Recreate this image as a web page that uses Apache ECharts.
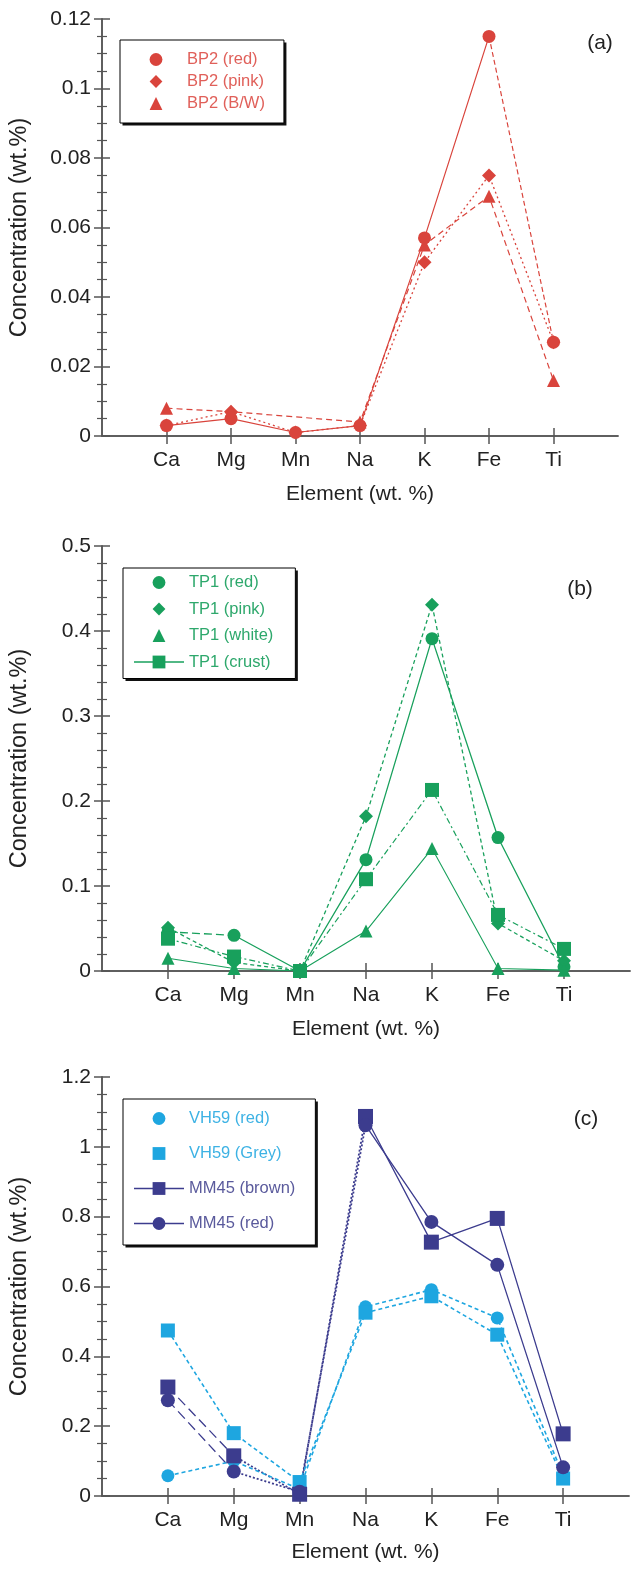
<!DOCTYPE html>
<html><head><meta charset="utf-8">
<script src="https://cdn.jsdelivr.net/npm/echarts@6/dist/echarts.min.js"></script>
<style>html,body{margin:0;padding:0;background:#fff}#c{width:634px;height:1570px}</style>
</head><body><div id="c"></div>
<script>
// ---------- data ----------
const categories = ['Ca', 'Mg', 'Mn', 'Na', 'K', 'Fe', 'Ti'];
const xPos = [1, 2, 3, 4, 5, 6, 7];
const xName = 'Element (wt. %)';
const yName = 'Concentration (wt.%)';

// panel (a)
const yTicksA = [0, 0.02, 0.04, 0.06, 0.08, 0.1, 0.12];
const bp2Red  = [0.003, 0.005, 0.001, 0.003, 0.057, 0.115, 0.027];
const bp2Pink = [0.003, 0.007, 0.001, 0.003, 0.050, 0.075, 0.027];
const bp2BW   = [0.008, 0.007, null,  0.004, 0.055, 0.069, 0.016];

// panel (b)
const yTicksB = [0, 0.1, 0.2, 0.3, 0.4, 0.5];
const tp1Red   = [0.046, 0.042, 0, 0.131, 0.391, 0.157, 0.005];
const tp1Pink  = [0.051, 0.010, 0, 0.182, 0.431, 0.056, 0.012];
const tp1White = [0.015, 0.003, 0, 0.047, 0.144, 0.003, 0.001];
const tp1Crust = [0.038, 0.017, 0, 0.108, 0.213, 0.066, 0.026];

// panel (c)
const yTicksC = [0, 0.2, 0.4, 0.6, 0.8, 1, 1.2];
const vh59Red   = [0.058, 0.100, 0.020, 0.542, 0.591, 0.510, 0.060];
const vh59Grey  = [0.474, 0.180, 0.040, 0.525, 0.572, 0.462, 0.050];
const mm45Brown = [0.312, 0.115, 0.005, 1.087, 0.727, 0.795, 0.178];
const mm45Red   = [0.274, 0.070, 0.012, 1.062, 0.785, 0.662, 0.082];

// ---------- styles ----------
const FONT = '"Liberation Sans", Arial, sans-serif';
const AX = '#555';
const RED = '#d9443c', RED_T = '#e0605a';
const GREEN = '#18a05c', GREEN_T = '#2ea86c';
const LBLUE = '#1ea6e0', LBLUE_T = '#3db2e4';
const NAVY = '#3c3c8e', NAVY_T = '#5a5a9c';

const grids = [
  {left: 100, top: 19, width: 518, height: 417},
  {left: 100, top: 546, width: 530, height: 425},
  {left: 102, top: 1077, width: 527, height: 419}
];
const yTickSets = [yTicksA, yTicksB, yTicksC];
const minorSplits = [4, 5, 4];
const xNameGaps = [48, 48, 46];

const xAxis = [], yAxis = [];
grids.forEach((g, gi) => {
  const axLine = {show: true, lineStyle: {color: AX, width: 1.5}};
  xAxis.push({
    type: 'value', gridIndex: gi, position: 'bottom', min: 0, max: 8, interval: 1,
    axisLine: axLine,
    axisTick: {show: true, inside: true, length: 8, customValues: xPos, lineStyle: {color: AX, width: 1.5}},
    axisLabel: {show: true, customValues: xPos, margin: 14, fontSize: 21, color: '#222', fontFamily: FONT,
      formatter: v => categories[Math.round(v) - 1] || ''},
    splitLine: {show: false},
    name: xName, nameLocation: 'middle', nameGap: xNameGaps[gi],
    nameTextStyle: {fontSize: 21, color: '#222', fontFamily: FONT}
  });
  xAxis.push({
    type: 'value', gridIndex: gi, position: 'top', min: 0, max: 8, interval: 1,
    axisLine: axLine,
    axisTick: {show: true, inside: true, length: 8, customValues: xPos, lineStyle: {color: AX, width: 1.5}},
    axisLabel: {show: false}, splitLine: {show: false}
  });
  const t = yTickSets[gi];
  const base = {
    type: 'value', gridIndex: gi, min: t[0], max: t[t.length - 1], interval: t[1] - t[0],
    axisLine: axLine,
    axisTick: {show: true, inside: true, length: 8, lineStyle: {color: AX, width: 1.5}},
    minorTick: {show: true, splitNumber: minorSplits[gi], length: 5, lineStyle: {color: AX, width: 1.2}},
    splitLine: {show: false}, minorSplitLine: {show: false}
  };
  yAxis.push(Object.assign({}, base, {
    position: 'left',
    axisLabel: {show: true, margin: 11, fontSize: 21, color: '#222', fontFamily: FONT,
      formatter: v => String(+v.toFixed(3))},
    name: yName, nameLocation: 'middle', nameGap: 70,
    nameTextStyle: {fontSize: 23.5, color: '#222', fontFamily: FONT}
  }));
  yAxis.push(Object.assign({}, base, {position: 'right', axisLabel: {show: false}}));
});

function mk(name, vals, gi, color, symbol, size, lineType, width, lineOpacity) {
  return {
    name: name, type: 'line', xAxisIndex: gi * 2, yAxisIndex: gi * 2,
    data: vals.map((v, i) => [xPos[i], v]),
    connectNulls: true, symbol: symbol, symbolSize: size, z: 3,
    itemStyle: {color: color},
    lineStyle: {color: color, width: width, type: lineType, opacity: lineOpacity == null ? 1 : lineOpacity},
    emphasis: {disabled: true}, animation: false
  };
}
// unnamed line segment between category indices a..b (no markers)
function seg(vals, a, b, gi, color, lineType, width) {
  return {
    type: 'line', xAxisIndex: gi * 2, yAxisIndex: gi * 2, z: 2,
    data: vals.slice(a, b + 1).map((v, j) => [xPos[a + j], v]),
    symbol: 'none', lineStyle: {color: color, width: width, type: lineType},
    emphasis: {disabled: true}, animation: false, silent: true
  };
}

const series = [
  mk('BP2 (red)',  bp2Red,  0, RED, 'circle',   13, 'solid', 1.2, 0),
  seg(bp2Red, 0, 5, 0, RED, 'solid', 1.2),
  seg(bp2Red, 5, 6, 0, RED, [5, 3], 1.2),
  mk('BP2 (pink)', bp2Pink, 0, RED, 'diamond',  14, [2, 3], 1.3),
  mk('BP2 (B/W)',  bp2BW,   0, RED, 'triangle', 13, [6, 4], 1.2),

  mk('TP1 (red)',   tp1Red,   1, GREEN, 'circle',   13, 'solid', 1.3, 0),
  seg(tp1Red, 0, 1, 1, GREEN, [8, 4], 1.3),
  seg(tp1Red, 1, 6, 1, GREEN, 'solid', 1.3),
  mk('TP1 (pink)',  tp1Pink,  1, GREEN, 'diamond',  14, [4, 3], 1.3),
  mk('TP1 (white)', tp1White, 1, GREEN, 'triangle', 13, 'solid', 1.1),
  mk('TP1 (crust)', tp1Crust, 1, GREEN, 'rect',     14, [6, 3, 2, 3], 1.2),

  mk('VH59 (red)',   vh59Red,   2, LBLUE, 'circle', 13, [4, 3], 1.6),
  mk('VH59 (Grey)',  vh59Grey,  2, LBLUE, 'rect',   14, [4, 3], 1.6),
  mk('MM45 (brown)', mm45Brown, 2, NAVY,  'rect',   15, 'solid', 1.3, 0),
  seg(mm45Brown, 0, 1, 2, NAVY, [10, 5], 1.3),
  seg(mm45Brown, 1, 3, 2, NAVY, [2, 2], 1.8),
  seg(mm45Brown, 3, 6, 2, NAVY, 'solid', 1.3),
  mk('MM45 (red)',   mm45Red,   2, NAVY,  'circle', 14, 'solid', 1.3, 0),
  seg(mm45Red, 0, 1, 2, NAVY, [10, 5], 1.3),
  seg(mm45Red, 1, 3, 2, NAVY, [2, 2], 1.8),
  seg(mm45Red, 3, 6, 2, NAVY, 'solid', 1.3)
];

function legendItem(name, tcolor, lineColor) {
  const o = {name: name, textStyle: {color: tcolor}};
  o.lineStyle = lineColor ? {color: lineColor, type: 'solid', width: 1.3, opacity: 1} : {opacity: 0};
  return o;
}
const legendBase = {
  orient: 'vertical', selectedMode: false, itemHeight: 16,
  borderColor: '#000', borderWidth: 1, backgroundColor: '#fff',
  textStyle: {fontSize: 16.5, fontFamily: FONT, lineHeight: 16}
};
const legend = [
  Object.assign({}, legendBase, {left: 120, top: 40, itemWidth: 52, itemGap: 5, padding: [11, 19, 11, 9],
    data: [legendItem('BP2 (red)', RED_T), legendItem('BP2 (pink)', RED_T), legendItem('BP2 (B/W)', RED_T)]}),
  Object.assign({}, legendBase, {left: 123, top: 568, itemWidth: 50, itemGap: 9.5, padding: [6, 22, 8, 10],
    data: [legendItem('TP1 (red)', GREEN_T), legendItem('TP1 (pink)', GREEN_T),
           legendItem('TP1 (white)', GREEN_T), legendItem('TP1 (crust)', GREEN_T, GREEN)]}),
  Object.assign({}, legendBase, {left: 123, top: 1099, itemWidth: 50, itemGap: 18, padding: [11, 20, 13, 10],
    data: [legendItem('VH59 (red)', LBLUE_T), legendItem('VH59 (Grey)', LBLUE_T),
           legendItem('MM45 (brown)', NAVY_T, NAVY), legendItem('MM45 (red)', NAVY_T, NAVY)]})
];

const panelLabels = [['(a)', 600, 43], ['(b)', 580, 589], ['(c)', 586, 1119]];
const graphic = panelLabels.map((p, i) => ({
  id: 'lbl' + i, type: 'text', x: p[1], y: p[2], z: 10,
  style: {text: p[0], font: '21px ' + FONT, fill: '#222', textAlign: 'center', textVerticalAlign: 'middle'}
}));

const chart = echarts.init(document.getElementById('c'), null, {renderer: 'canvas'});
chart.setOption({
  animation: false, backgroundColor: '#fff',
  grid: grids, xAxis: xAxis, yAxis: yAxis, series: series, legend: legend, graphic: graphic
});

// drop shadow (thick right/bottom edge) behind each legend box, sized from the rendered legend
const fallback = [[120, 40, 165, 83], [123, 568, 172, 109], [123, 1099, 192, 144]];
const shadows = [];
let boxes = fallback;
try {
  const models = chart.getModel().queryComponents({mainType: 'legend'});
  const found = models.map(m => {
    const v = chart.getViewOfComponentModel(m);
    const g = v.group;
    const r = g.getBoundingRect();
    return [g.x + r.x, g.y + r.y, r.width, r.height];
  });
  if (found.length === 3 && found.every(b => b.every(isFinite) && b[2] > 50)) boxes = found;
} catch (e) { boxes = fallback; }
boxes.forEach((b, i) => shadows.push({
  id: 'shadow' + i, type: 'rect', z: 1, silent: true,
  shape: {x: b[0] + 3, y: b[1] + 3, width: b[2] - 1, height: b[3] - 1}, style: {fill: '#111'}
}));
chart.setOption({graphic: shadows});
</script></body></html>
